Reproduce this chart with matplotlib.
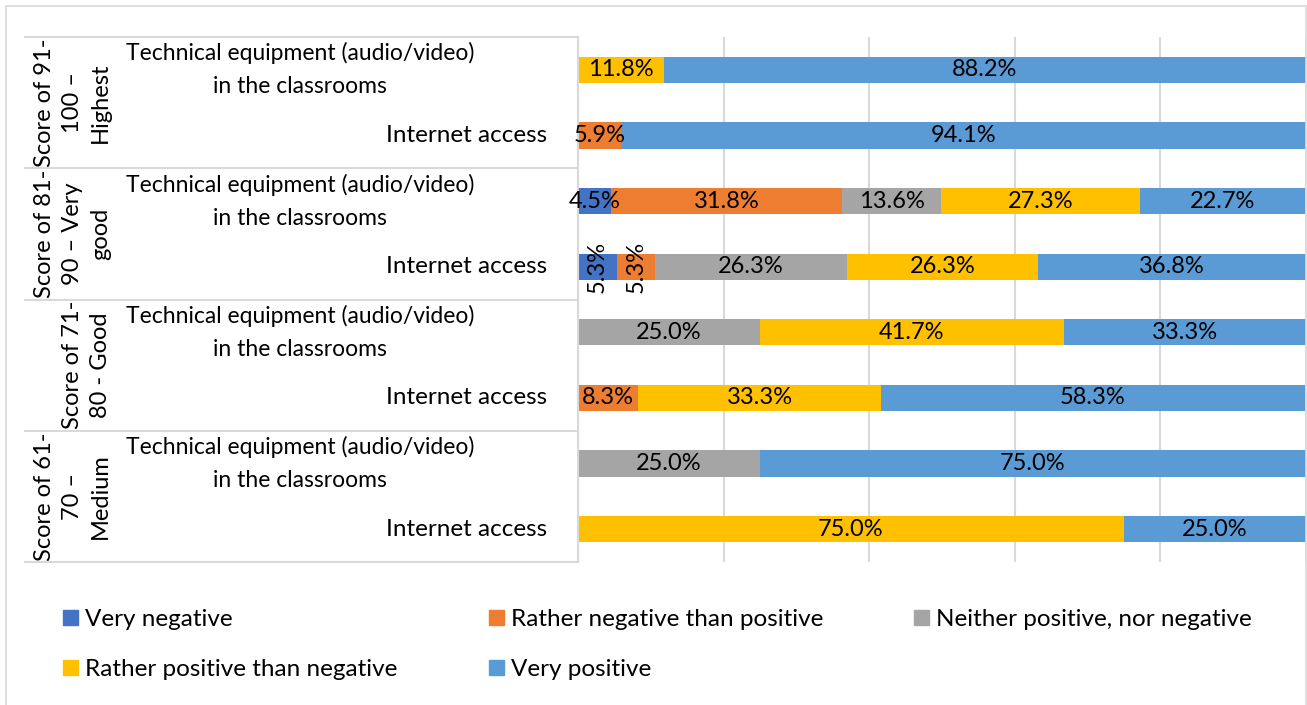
import matplotlib.pyplot as plt
import matplotlib.transforms as mtransforms
from matplotlib.lines import Line2D
from matplotlib.patches import Rectangle, Patch
import numpy as np

plt.rcParams['font.family'] = ['Lato', 'DejaVu Sans']

groups = ["Score of 91-\n100 \u2013\nHighest",
          "Score of 81-\n90 \u2013 Very\ngood",
          "Score of 71-\n80 - Good",
          "Score of 61-\n70 \u2013\nMedium"]
items = ["Technical equipment (audio/video)\nin the classrooms", "Internet access"]

answers = ["Very negative", "Rather negative than positive",
           "Neither positive, nor negative", "Rather positive than negative",
           "Very positive"]
colors = ["#4472C4", "#ED7D31", "#A5A5A5", "#FFC000", "#5B9BD5"]

# one row per bar, top to bottom, shares in percent
very_negative = [0, 0, 4.5, 5.3, 0, 0, 0, 0]
rather_negative = [0, 5.9, 31.8, 5.3, 0, 8.3, 0, 0]
neither = [0, 0, 13.6, 26.3, 25.0, 0, 25.0, 0]
rather_positive = [11.8, 0, 27.3, 26.3, 41.7, 33.3, 0, 75.0]
very_positive = [88.2, 94.1, 22.7, 36.8, 33.3, 58.3, 75.0, 25.0]
series = [very_negative, rather_negative, neither, rather_positive, very_positive]

W, H = 1307, 705
fig = plt.figure(figsize=(W / 100, H / 100), dpi=100)
ax = fig.add_axes([578 / W, 1 - 562 / H, 728 / W, 525 / H])

data = np.array(series)
rows = np.arange(data.shape[1])
left = np.zeros(data.shape[1])
for k, (name, c) in enumerate(zip(answers, colors)):
    vals = data[k]
    ax.barh(rows, vals, left=left, height=0.4, color=c, label=name, zorder=2)
    for r, v, l in zip(rows, vals, left):
        if v == 0:
            continue
        # two narrow neighbouring segments get vertical labels
        nz = [x for x in data[:, r] if x > 0]
        i = nz.index(v)
        neigh = nz[max(i - 1, 0):i] + nz[i + 1:i + 2]
        rot = 90 if v < 6 and any(n < 6 for n in neigh) else 0
        ax.text(l + v / 2, r, f"{v:.1f}%", ha='center', va='center',
                rotation=rot, fontsize=17, color='black', zorder=3)
    left += vals

ax.set_xlim(0, 100)
ax.set_ylim(len(rows) - 0.5, -0.5)
ax.set_xticks([0, 20, 40, 60, 80, 100])
ax.grid(axis='x', color='#D9D9D9', lw=1.5, zorder=0)
ax.tick_params(left=False, bottom=False, labelleft=False, labelbottom=False)
for side in ['top', 'right', 'bottom']:
    ax.spines[side].set_visible(False)
ax.spines['left'].set_color('#D9D9D9')
ax.spines['left'].set_linewidth(1.5)

# category table on the left
tr = mtransforms.blended_transform_factory(fig.transFigure, ax.transData)
for b in [-0.5, 1.5, 3.5, 5.5, 7.5]:
    fig.add_artist(Line2D([25 / W, 578 / W], [b, b], transform=tr,
                          color='#D9D9D9', lw=1.5))
for g, label in enumerate(groups):
    ax.text(111 / W, 2 * g + 0.5, label, transform=tr, rotation=90,
            ha='right', va='center', multialignment='center', fontsize=17,
            linespacing=1.4)
    ax.text(300 / W, 2 * g, items[0], transform=tr, ha='center', va='center',
            multialignment='center', fontsize=16.5, linespacing=1.7)
    ax.text(547 / W, 2 * g + 1, items[1], transform=tr, ha='right',
            va='center', fontsize=17.5)

# outer frame
fig.add_artist(Rectangle((6 / W, -0.01), 1300 / W, 1 - 6 / H + 0.01,
                         transform=fig.transFigure, fill=False,
                         edgecolor='#D9D9D9', lw=1.2))

# legend laid out in rows, one legend per column
handles = [Patch(color=c) for c in colors]
cols = [[0, 3], [1, 4], [2]]
col_x = [63, 489, 914]
for idx, x in zip(cols, col_x):
    fig.legend([handles[i] for i in idx], [answers[i] for i in idx],
               loc='upper left', bbox_to_anchor=(x / W, 1 - 609 / H),
               frameon=False, fontsize=17.5, handlelength=0.6,
               handleheight=0.55, handletextpad=0.3, labelspacing=1.2,
               borderpad=0, borderaxespad=0)

fig.savefig("out.png", dpi=100)
